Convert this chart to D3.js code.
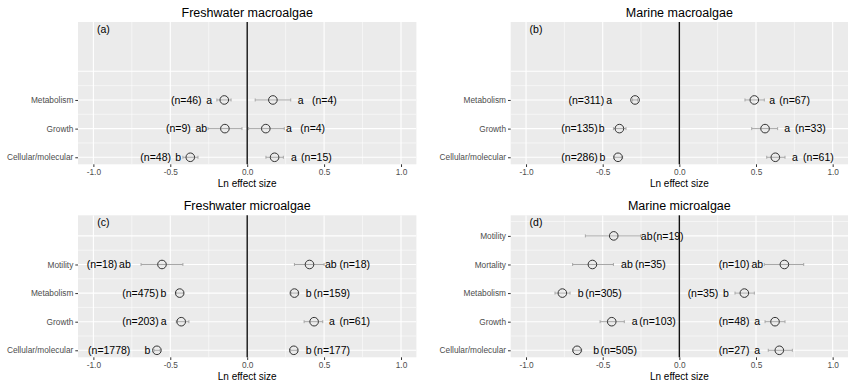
<!DOCTYPE html>
<html>
<head>
<meta charset="utf-8">
<script src="https://cdn.jsdelivr.net/npm/d3@7"></script>
<style>
  html, body { margin: 0; padding: 0; background: #fff; }
  svg { display: block; font-family: "Liberation Sans", Arial, sans-serif; }
  .tick text { fill: #4d4d4d; }
  .tick line { stroke: #333; }
</style>
</head>
<body>
<svg id="chart" width="856" height="386"></svg>
<script>
// effect sizes (ln) per panel; slot order from bottom of the panel upward
const titles = ['Freshwater macroalgae', 'Marine macroalgae', 'Freshwater microalgae', 'Marine microalgae'];
const tags = ['(a)', '(b)', '(c)', '(d)'];
const categories = [
  ['Cellular/molecular', 'Growth', 'Metabolism'],
  ['Cellular/molecular', 'Growth', 'Metabolism'],
  ['Cellular/molecular', 'Growth', 'Metabolism', 'Motility'],
  ['Cellular/molecular', 'Growth', 'Metabolism', 'Mortality', 'Motility']
];
const xTicks = [-1, -0.5, 0, 0.5, 1];

// each row: mean, CI low/high, n, letter group, and where the letter / n labels sit (ln units)
const fwMacro = [
  { cat: 'Metabolism', mean: -0.149, lo: -0.197, hi: -0.105, n: 46, letter: 'a', letterX: -0.247, nX: -0.396 },
  { cat: 'Metabolism', mean: 0.167, lo: 0.052, hi: 0.283, n: 4, letter: 'a', letterX: 0.348, nX: 0.502 },
  { cat: 'Growth', mean: -0.145, lo: -0.255, hi: -0.034, n: 9, letter: 'ab', letterX: -0.298, nX: -0.447 },
  { cat: 'Growth', mean: 0.121, lo: 0.009, hi: 0.241, n: 4, letter: 'a', letterX: 0.272, nX: 0.426 },
  { cat: 'Cellular/molecular', mean: -0.37, lo: -0.418, hi: -0.32, n: 48, letter: 'b', letterX: -0.449, nX: -0.595 },
  { cat: 'Cellular/molecular', mean: 0.178, lo: 0.122, hi: 0.235, n: 15, letter: 'a', letterX: 0.303, nX: 0.45 }
];
const marMacro = [
  { cat: 'Metabolism', mean: -0.289, lo: -0.305, hi: -0.273, n: 311, letter: 'a', letterX: -0.458, nX: -0.607 },
  { cat: 'Metabolism', mean: 0.489, lo: 0.428, hi: 0.554, n: 67, letter: 'a', letterX: 0.605, nX: 0.752 },
  { cat: 'Growth', mean: -0.391, lo: -0.43, hi: -0.348, n: 135, letter: 'b', letterX: -0.507, nX: -0.652 },
  { cat: 'Growth', mean: 0.559, lo: 0.472, hi: 0.641, n: 33, letter: 'a', letterX: 0.703, nX: 0.855 },
  { cat: 'Cellular/molecular', mean: -0.4, lo: -0.426, hi: -0.37, n: 286, letter: 'b', letterX: -0.501, nX: -0.651 },
  { cat: 'Cellular/molecular', mean: 0.626, lo: 0.57, hi: 0.689, n: 61, letter: 'a', letterX: 0.754, nX: 0.907 }
];
const fwMicro = [
  { cat: 'Motility', mean: -0.554, lo: -0.69, hi: -0.418, n: 18, letter: 'ab', letterX: -0.795, nX: -0.944 },
  { cat: 'Motility', mean: 0.405, lo: 0.307, hi: 0.5, n: 18, letter: 'ab', letterX: 0.543, nX: 0.699 },
  { cat: 'Metabolism', mean: -0.439, lo: -0.461, hi: -0.415, n: 475, letter: 'b', letterX: -0.545, nX: -0.694 },
  { cat: 'Metabolism', mean: 0.307, lo: 0.286, hi: 0.33, n: 159, letter: 'b', letterX: 0.4, nX: 0.55 },
  { cat: 'Growth', mean: -0.429, lo: -0.461, hi: -0.379, n: 203, letter: 'a', letterX: -0.543, nX: -0.694 },
  { cat: 'Growth', mean: 0.435, lo: 0.37, hi: 0.491, n: 61, letter: 'a', letterX: 0.551, nX: 0.699 },
  { cat: 'Cellular/molecular', mean: -0.587, lo: -0.606, hi: -0.566, n: 1778, letter: 'b', letterX: -0.649, nX: -0.897 },
  { cat: 'Cellular/molecular', mean: 0.303, lo: 0.282, hi: 0.326, n: 177, letter: 'b', letterX: 0.4, nX: 0.55 }
];
const marMicro = [
  { cat: 'Motility', mean: -0.428, lo: -0.613, hi: -0.252, n: 19, letter: 'ab', letterX: -0.213, nX: -0.072 },
  { cat: 'Mortality', mean: -0.567, lo: -0.696, hi: -0.43, n: 35, letter: 'ab', letterX: -0.342, nX: -0.189 },
  { cat: 'Mortality', mean: 0.685, lo: 0.554, hi: 0.811, n: 10, letter: 'ab', letterX: 0.508, nX: 0.357 },
  { cat: 'Metabolism', mean: -0.763, lo: -0.811, hi: -0.713, n: 305, letter: 'b', letterX: -0.643, nX: -0.495 },
  { cat: 'Metabolism', mean: 0.424, lo: 0.363, hi: 0.489, n: 35, letter: 'b', letterX: 0.304, nX: 0.154 },
  { cat: 'Growth', mean: -0.441, lo: -0.517, hi: -0.359, n: 103, letter: 'a', letterX: -0.292, nX: -0.142 },
  { cat: 'Growth', mean: 0.624, lo: 0.559, hi: 0.689, n: 48, letter: 'a', letterX: 0.507, nX: 0.357 },
  { cat: 'Cellular/molecular', mean: -0.667, lo: -0.696, hi: -0.637, n: 505, letter: 'b', letterX: -0.542, nX: -0.396 },
  { cat: 'Cellular/molecular', mean: 0.652, lo: 0.58, hi: 0.737, n: 27, letter: 'a', letterX: 0.507, nX: 0.357 }
];
const panelRows = [fwMacro, marMacro, fwMicro, marMicro];

const svg = d3.select('#chart');
const cols = [[78, 416.4], [510.7, 848]];
const rows = [[22, 164.3], [215.3, 357.3]];

panelRows.forEach((data, i) => {
  const [x0, x1] = cols[i % 2];
  const [y0, y1] = rows[Math.floor(i / 2)];
  const cats = categories[i];
  const slot = c => cats.indexOf(c) + 1;

  const x = d3.scaleLinear().domain([-1.1, 1.1]).range([x0, x1]);
  const y = d3.scaleLinear().domain([5.72, 0.755]).range([y0, y1]);

  const g = svg.append('g');
  const clipId = 'clip' + i;
  g.append('defs').append('clipPath').attr('id', clipId)
    .append('rect').attr('x', x0).attr('y', y0).attr('width', x1 - x0).attr('height', y1 - y0);
  g.append('rect').attr('x', x0).attr('y', y0).attr('width', x1 - x0).attr('height', y1 - y0).attr('fill', '#ebebeb');

  const grid = g.append('g').attr('clip-path', `url(#${clipId})`);
  // minor grid
  [-0.75, -0.25, 0.25, 0.75].forEach(v => grid.append('line')
    .attr('x1', x(v)).attr('x2', x(v)).attr('y1', y0).attr('y2', y1)
    .attr('stroke', '#fff').attr('stroke-width', 0.55));
  d3.range(1.5, cats.length + 1.01, 1).forEach(s => grid.append('line')
    .attr('x1', x0).attr('x2', x1).attr('y1', y(s)).attr('y2', y(s))
    .attr('stroke', '#fff').attr('stroke-width', 0.55));
  // major grid
  xTicks.forEach(v => grid.append('line')
    .attr('x1', x(v)).attr('x2', x(v)).attr('y1', y0).attr('y2', y1)
    .attr('stroke', '#fff').attr('stroke-width', 1.1));
  d3.range(1, cats.length + 1.01, 1).forEach(s => grid.append('line')
    .attr('x1', x0).attr('x2', x1).attr('y1', y(s)).attr('y2', y(s))
    .attr('stroke', '#fff').attr('stroke-width', 1.1));

  // zero line
  g.append('line').attr('x1', x(0)).attr('x2', x(0)).attr('y1', y0).attr('y2', y1)
    .attr('stroke', '#111').attr('stroke-width', 1.4);

  // error bars
  const eb = g.append('g').attr('stroke', '#a6a6a6').attr('stroke-width', 1);
  data.forEach(d => {
    const cy = y(slot(d.cat));
    eb.append('line').attr('x1', x(d.lo)).attr('x2', x(d.hi)).attr('y1', cy).attr('y2', cy);
    [d.lo, d.hi].forEach(v => eb.append('line')
      .attr('x1', x(v)).attr('x2', x(v)).attr('y1', cy - 1.5).attr('y2', cy + 1.5));
  });

  // points
  g.append('g').selectAll('circle').data(data).join('circle')
    .attr('cx', d => x(d.mean)).attr('cy', d => y(slot(d.cat))).attr('r', 4.3)
    .attr('fill', 'none').attr('stroke', '#333').attr('stroke-width', 1);

  // letters and n labels
  const lab = g.append('g').attr('font-size', 10.5).attr('fill', '#000').attr('text-anchor', 'middle');
  data.forEach(d => {
    const cy = y(slot(d.cat));
    lab.append('text').attr('x', x(d.letterX)).attr('y', cy).attr('dy', '0.36em').text(d.letter);
    lab.append('text').attr('x', x(d.nX)).attr('y', cy).attr('dy', '0.36em').text(`(n=${d.n})`);
  });

  // panel tag
  g.append('text').attr('x', x(-0.935)).attr('y', y(5.47)).attr('dy', '0.36em')
    .attr('font-size', 10.5).attr('text-anchor', 'middle').text(tags[i]);

  // axes
  const xa = g.append('g').attr('transform', `translate(0,${y1})`)
    .call(d3.axisBottom(x).tickValues(xTicks).tickSize(2.7).tickPadding(2).tickFormat(v => v.toFixed(1)));
  xa.select('.domain').remove();
  xa.selectAll('text').attr('font-size', 8.3).attr('font-family', null);

  const ya = g.append('g').attr('transform', `translate(${x0},0)`)
    .call(d3.axisLeft(y).tickValues(cats.map((c, k) => k + 1)).tickSize(2.7).tickPadding(2).tickFormat(s => cats[s - 1]));
  ya.select('.domain').remove();
  ya.selectAll('text').attr('font-size', 8.3).attr('font-family', null);

  // titles
  g.append('text').attr('x', (x0 + x1) / 2).attr('y', y0 - 5.5).attr('text-anchor', 'middle')
    .attr('font-size', 12.5).attr('fill', '#000').text(titles[i]);
  g.append('text').attr('x', (x0 + x1) / 2).attr('y', y1 + 22.5).attr('text-anchor', 'middle')
    .attr('font-size', 10).attr('fill', '#000').text('Ln effect size');
});
</script>
</body>
</html>
